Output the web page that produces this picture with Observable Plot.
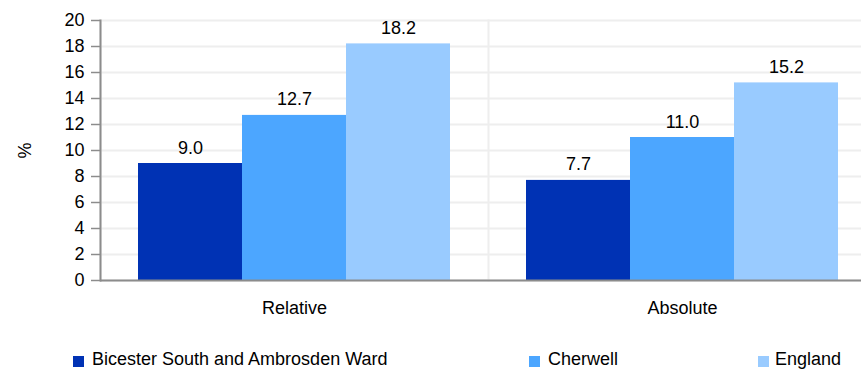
<!DOCTYPE html>
<html>
<head>
<meta charset="utf-8">
<script src="https://cdn.jsdelivr.net/npm/d3@7"></script>
<script src="https://cdn.jsdelivr.net/npm/@observablehq/plot@0.6"></script>
<style>
  html, body { margin: 0; padding: 0; background: #fff; overflow: hidden; }
  #wrap { position: relative; width: 861px; height: 370px; overflow: hidden; font-family: "Liberation Sans", Arial, sans-serif; }
  #wrap svg { max-width: none !important; display: block; }
  .leg { position: absolute; top: 349px; font-size: 18px; color: #000; white-space: nowrap; line-height: 20px; }
  .sw { position: absolute; top: 356px; width: 11px; height: 11px; }
</style>
</head>
<body>
<div id="wrap"></div>
<script>
const groups = ["Relative", "Absolute"];
const series = ["Bicester South and Ambrosden Ward", "Cherwell", "England"];
const relativeValues = [9.0, 12.7, 18.2];
const absoluteValues = [7.7, 11.0, 15.2];
const colors = ["#0032b4", "#4ca6ff", "#99cbff"];
const yTicks = [0, 2, 4, 6, 8, 10, 12, 14, 16, 18, 20];
const legendSwatchX = [73, 529, 758];
const legendTextX = [92, 548, 775];

const groupValues = [relativeValues, absoluteValues];
const data = groups.flatMap((g, gi) => series.map((s, si) => ({group: g, series: s, value: groupValues[gi][si]})));

const chart = Plot.plot({
  width: 876,
  height: 330,
  marginLeft: 100,
  marginRight: 0,
  marginTop: 20,
  marginBottom: 50,
  style: {fontFamily: "'Liberation Sans', Arial, sans-serif", fontSize: "18px", color: "#000", background: "#fff", maxWidth: "none"},
  fx: {domain: groups, padding: 0, axis: null, label: null},
  x: {domain: series, paddingInner: 0, paddingOuter: 0.365, axis: null},
  y: {domain: [0, 20], axis: null},
  color: {domain: series, range: colors},
  marks: [
    Plot.gridY(yTicks, {stroke: "#eeeeee", strokeOpacity: 1, strokeWidth: 2}),
    Plot.frame({anchor: "left", stroke: "#eeeeee", strokeWidth: 2}),
    Plot.barY(data, {fx: "group", x: "series", y: "value", fill: "series", inset: 0}),
    Plot.text(data, {fx: "group", x: "series", y: "value", text: d => d.value.toFixed(1), lineAnchor: "bottom", dy: -10, fontSize: 18, fill: "#000"}),
    Plot.ruleY([0], {stroke: "#8c8c8c", strokeWidth: 2}),
    Plot.frame({anchor: "left", stroke: "#8c8c8c", strokeWidth: 2, facetAnchor: "left"}),
    Plot.axisY({ticks: yTicks, tickSize: 9, tickPadding: 7, stroke: "#8c8c8c", strokeWidth: 1.5, fill: "#000", label: "%", labelAnchor: "center", labelOffset: 82, labelArrow: "none", fontSize: 18}),
    Plot.axisFx({anchor: "bottom", tickSize: 0, tickPadding: 21, label: null, fontSize: 18, fill: "#000"})
  ]
});

const wrap = document.getElementById("wrap");
wrap.appendChild(chart);
series.forEach((s, i) => {
  const sw = document.createElement("div");
  sw.className = "sw";
  sw.style.left = legendSwatchX[i] + "px";
  sw.style.background = colors[i];
  wrap.appendChild(sw);
  const d = document.createElement("div");
  d.className = "leg";
  d.style.left = legendTextX[i] + "px";
  d.textContent = s;
  wrap.appendChild(d);
});
</script>
</body>
</html>
